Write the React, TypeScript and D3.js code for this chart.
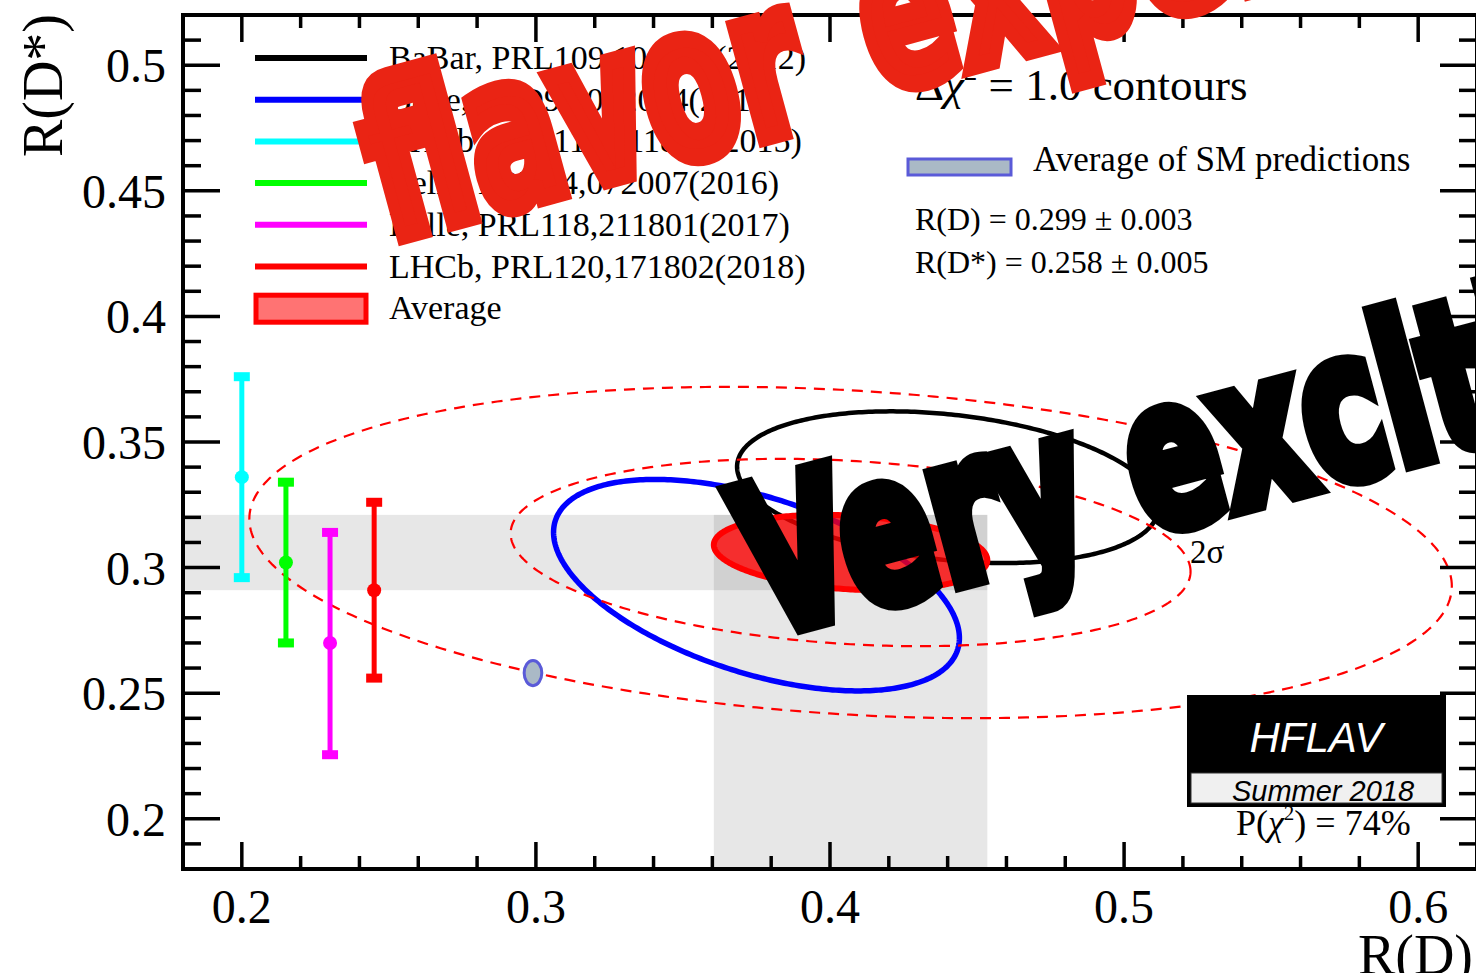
import React from "react";
import * as d3 from "d3";

// ---------- data ----------
const xDomain = [0.18, 0.62];
const yDomain = [0.18, 0.52];
const xMajorTicks = [0.2, 0.3, 0.4, 0.5, 0.6];
const yMajorTicks = [0.2, 0.25, 0.3, 0.35, 0.4, 0.45, 0.5];

// 2D measurements (Δχ² = 1 contours)
const ell2DNames = ["BaBar", "Belle 2015"];
const ell2DRD = [0.44, 0.375];
const ell2DRDErr = [0.0716, 0.069];
const ell2DRDs = [0.332, 0.293];
const ell2DRDsErr = [0.0302, 0.0421];
const ell2DRho = [-0.27, -0.5];
const ell2DColors = ["#000000", "#0000ff"];
const ell2DWidths = [4.5, 5.5];

// 1D R(D*) measurements
const m1DNames = ["LHCb 2015", "Belle 2016", "Belle 2017", "LHCb 2018"];
const m1DX = [0.2, 0.215, 0.23, 0.245];
const m1DVal = [0.336, 0.302, 0.27, 0.291];
const m1DUp = [0.04, 0.032, 0.044, 0.035];
const m1DDown = [0.04, 0.032, 0.0445, 0.035];
const m1DColors = ["#00ffff", "#00ff00", "#ff00ff", "#ff0000"];

// Average
const avgRD = 0.407;
const avgRDErr = 0.0465;
const avgRDs = 0.306;
const avgRDsErr = 0.015;
const avgRho = -0.203;
const avgContourDChi2 = [6.18, 19.33];

// SM prediction
const smRD = 0.299;
const smRDErr = 0.003;
const smRDs = 0.258;
const smRDsErr = 0.005;

// legend
const legendLabels = [
  "BaBar, PRL109,101802(2012)",
  "Belle, PRD92,072014(2015)",
  "LHCb, PRL115,111803(2015)",
  "Belle, PRD94,072007(2016)",
  "Belle, PRL118,211801(2017)",
  "LHCb, PRL120,171802(2018)",
];
const legendColors = ["#000000", "#0000ff", "#00ffff", "#00ff00", "#ff00ff", "#ff0000"];

// overlay captions
const captionRedWords = ["flavor", "experts"];
const captionBlack = "Very exciting!";

const W = 1476;
const H = 973;
const serif = "'Liberation Serif', 'Times New Roman', serif";
const sans = "'Liberation Sans', Arial, Helvetica, sans-serif";
const heavy = "'DejaVu Sans', sans-serif";

const x = d3.scaleLinear().domain(xDomain).range([183, 1477]);
const y = d3.scaleLinear().domain(yDomain).range([869, 15]);

function ellipsePath(mx: number, sx: number, my: number, sy: number, rho: number, k: number) {
  const pts: [number, number][] = d3.range(0, 360, 1).map((i) => {
    const t = (i * Math.PI) / 180;
    const vx = mx + k * sx * Math.cos(t);
    const vy = my + k * sy * (rho * Math.cos(t) + Math.sqrt(1 - rho * rho) * Math.sin(t));
    return [x(vx), y(vy)];
  });
  return d3.line().curve(d3.curveLinearClosed)(pts) || "";
}

export default function App() {
  const x0 = x(xDomain[0]);
  const x1 = x(xDomain[1]);
  const y0 = y(yDomain[0]);
  const y1 = y(yDomain[1]);

  const xMinor = d3.range(10, 31).map((i) => i * 0.02).filter((v) => !xMajorTicks.some((m) => Math.abs(m - v) < 1e-6));
  const yMinor = d3.range(19, 52).map((i) => i * 0.01).filter((v) => !yMajorTicks.some((m) => Math.abs(m - v) < 1e-6));

  const legendY0 = 58;
  const legendDy = 41.7;

  const capStyle = {
    fontFamily: heavy,
    fontWeight: "bold" as const,
    fontSize: 190,
    strokeWidth: 16,
    strokeLinejoin: "miter" as const,
    strokeMiterlimit: 3,
  };

  return (
    <svg width={W} height={H} style={{ position: "fixed", left: 0, top: 0, background: "#fff" }}>
      <defs>
        <clipPath id="plotClip">
          <rect x={x0} y={y1} width={x1 - x0} height={y0 - y1} />
        </clipPath>
      </defs>
      <rect x={0} y={0} width={W} height={H} fill="#fff" />
      <g clipPath="url(#plotClip)">
        {/* bands */}
        <rect x={x0} y={y(avgRDs + avgRDsErr)} width={x(avgRD + avgRDErr) - x0} height={y(avgRDs - avgRDsErr) - y(avgRDs + avgRDsErr)} fill="#000" opacity={0.095} />
        <rect x={x(avgRD - avgRDErr)} y={y(avgRDs + avgRDsErr)} width={x(avgRD + avgRDErr) - x(avgRD - avgRDErr)} height={y0 - y(avgRDs + avgRDsErr)} fill="#000" opacity={0.095} />
        {/* 2D measurement contours */}
        {ell2DNames.map((n, i) => (
          <path key={n} d={ellipsePath(ell2DRD[i], ell2DRDErr[i], ell2DRDs[i], ell2DRDsErr[i], ell2DRho[i], 1)} fill="none" stroke={ell2DColors[i]} strokeWidth={ell2DWidths[i]} />
        ))}
        {/* average */}
        <path d={ellipsePath(avgRD, avgRDErr, avgRDs, avgRDsErr, avgRho, 1)} fill="#ff0000" fillOpacity={0.78} stroke="#ff0000" strokeWidth={6} />
        {avgContourDChi2.map((c) => (
          <path key={c} d={ellipsePath(avgRD, avgRDErr, avgRDs, avgRDsErr, avgRho, Math.sqrt(c))} fill="none" stroke="#ff0000" strokeWidth={2.2} strokeDasharray="11 8" />
        ))}
        {/* 1D measurements */}
        {m1DNames.map((n, i) => {
          const cx = x(m1DX[i]);
          const top = y(m1DVal[i] + m1DUp[i]);
          const bot = y(m1DVal[i] - m1DDown[i]);
          return (
            <g key={n}>
              <line x1={cx} x2={cx} y1={top} y2={bot} stroke={m1DColors[i]} strokeWidth={5} />
              <rect x={cx - 8} y={top - 4.5} width={16} height={9} fill={m1DColors[i]} />
              <rect x={cx - 8} y={bot - 4.5} width={16} height={9} fill={m1DColors[i]} />
              <circle cx={cx} cy={y(m1DVal[i])} r={7} fill={m1DColors[i]} />
            </g>
          );
        })}
        {/* SM */}
        <ellipse cx={x(smRD)} cy={y(smRDs)} rx={x(smRD + smRDErr) - x(smRD)} ry={y(smRDs) - y(smRDs + smRDsErr)} fill="#aab9c6" stroke="#5a5ad8" strokeWidth={3} />
      </g>

      {/* 2 sigma label */}
      <text x={1190} y={563} fontFamily={serif} fontSize={33} fill="#000">2σ</text>

      {/* legend */}
      {legendLabels.map((l, i) => {
        const ly = legendY0 + i * legendDy;
        return (
          <g key={l}>
            <line x1={255} x2={367} y1={ly} y2={ly} stroke={legendColors[i]} strokeWidth={6} />
            <text x={389} y={ly + 11} fontFamily={serif} fontSize={34} fill="#000">{l}</text>
          </g>
        );
      })}
      <rect x={256} y={legendY0 + 6 * legendDy - 13} width={110} height={27} fill="#ff7373" stroke="#ff0000" strokeWidth={5} />
      <text x={389} y={legendY0 + 6 * legendDy + 11} fontFamily={serif} fontSize={34} fill="#000">Average</text>

      {/* right-hand texts */}
      <text x={915} y={100} fontFamily={serif} fontSize={45} fill="#000">
        Δ<tspan fontStyle="italic">χ</tspan>
        <tspan fontSize={27} dy={-20}>2</tspan>
        <tspan dy={20}> = 1.0 contours</tspan>
      </text>
      <rect x={908} y={159} width={103} height={16} fill="#aab9c6" stroke="#5a5ad8" strokeWidth={3} />
      <text x={1033} y={171} fontFamily={serif} fontSize={35} fill="#000">Average of SM predictions</text>
      <text x={915} y={230} fontFamily={serif} fontSize={32} fill="#000">R(D) = 0.299 ± 0.003</text>
      <text x={915} y={273} fontFamily={serif} fontSize={32} fill="#000">R(D*) = 0.258 ± 0.005</text>

      {/* frame and ticks */}
      <g stroke="#000" strokeWidth={3.5}>
        {xMajorTicks.map((v) => (
          <g key={"xM" + v}>
            <line x1={x(v)} x2={x(v)} y1={y0} y2={y0 - 27} />
            <line x1={x(v)} x2={x(v)} y1={y1} y2={y1 + 27} />
          </g>
        ))}
        {xMinor.map((v) => (
          <g key={"xm" + v}>
            <line x1={x(v)} x2={x(v)} y1={y0} y2={y0 - 13} />
            <line x1={x(v)} x2={x(v)} y1={y1} y2={y1 + 13} />
          </g>
        ))}
        {yMajorTicks.map((v) => (
          <g key={"yM" + v}>
            <line x1={x0} x2={x0 + 37} y1={y(v)} y2={y(v)} />
            <line x1={x1} x2={x1 - 37} y1={y(v)} y2={y(v)} />
          </g>
        ))}
        {yMinor.map((v) => (
          <g key={"ym" + v}>
            <line x1={x0} x2={x0 + 18} y1={y(v)} y2={y(v)} />
            <line x1={x1} x2={x1 - 18} y1={y(v)} y2={y(v)} />
          </g>
        ))}
      </g>
      <rect x={x0} y={y1} width={x1 - x0} height={y0 - y1} fill="none" stroke="#000" strokeWidth={4} />

      {/* tick labels */}
      {xMajorTicks.map((v) => (
        <text key={"xl" + v} x={x(v)} y={923} textAnchor="middle" fontFamily={serif} fontSize={48} fill="#000">{d3.format(".1f")(v)}</text>
      ))}
      {yMajorTicks.map((v) => (
        <text key={"yl" + v} x={166} y={y(v) + 17} textAnchor="end" fontFamily={serif} fontSize={48} fill="#000">{String(+v.toFixed(2))}</text>
      ))}
      <text x={1473} y={974} textAnchor="end" fontFamily={serif} fontSize={56} fill="#000">R(D)</text>
      <text transform="translate(62,14) rotate(-90)" textAnchor="end" fontFamily={serif} fontSize={56} fill="#000">R(D*)</text>

      {/* HFLAV box */}
      <rect x={1187} y={695} width={259} height={112} fill="#000" />
      <rect x={1191} y={773} width={251} height={30} fill="#f0f0f0" stroke="#333" strokeWidth={1} />
      <text x={1316} y={752} textAnchor="middle" fontFamily={sans} fontStyle="italic" fontSize={42} fill="#fff">HFLAV</text>
      <text x={1323} y={801} textAnchor="middle" fontFamily={sans} fontStyle="italic" fontSize={29} fill="#000">Summer 2018</text>
      <text x={1236} y={835} fontFamily={serif} fontSize={36} fill="#000">
        P(<tspan fontStyle="italic">χ</tspan><tspan fontSize={21} dy={-15}>2</tspan><tspan dy={15}>) = 74%</tspan>
      </text>

      {/* overlay captions */}
      <g transform="translate(388,240) rotate(-15.2)">
        <text transform="scale(0.72,1.1)" {...capStyle} fill="#ea2414" stroke="#ea2414">{captionRedWords[0]}</text>
        <text transform="translate(512,-14) scale(0.72,1.1)" {...capStyle} fill="#ea2414" stroke="#ea2414">{captionRedWords[1]}</text>
      </g>
      <g transform="translate(763,636) rotate(-15)">
        <text transform="scale(0.72,1.07)" {...capStyle} fill="#000" stroke="#000">{captionBlack}</text>
      </g>
    </svg>
  );
}
